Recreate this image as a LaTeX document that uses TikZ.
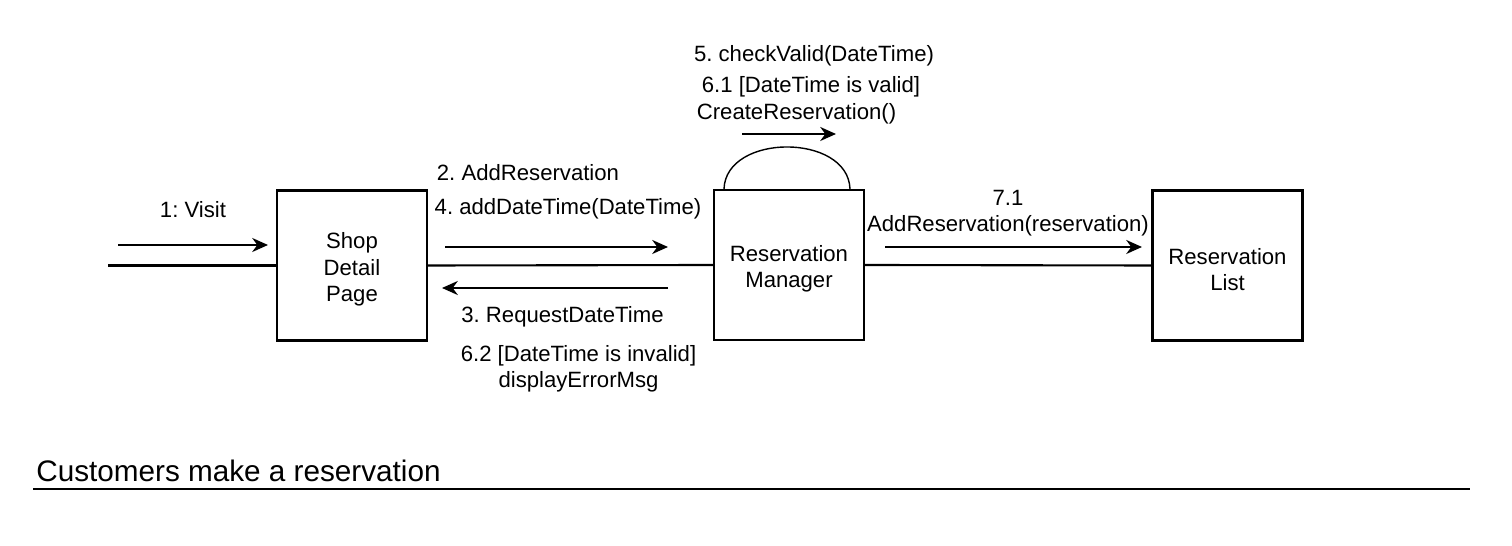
\documentclass[tikz,border=0pt]{standalone}
\usepackage{fontspec}
\setmainfont{Liberation Sans}
\usepackage{tikz}
\usetikzlibrary{arrows.meta,positioning,calc}
\newcommand{\boxstrut}{\rule{0pt}{13.8pt}}

\begin{document}
\frenchspacing
\begin{tikzpicture}[
  x=0.02cm, y=-0.02cm,
  obj/.style={draw, line width=1.2pt, minimum width=3cm, minimum height=3cm, inner sep=0pt, align=center, font=\fontsize{12.6}{15}\selectfont},
  link/.style={line width=1.2pt},
  msg/.style={line width=1.2pt, -{Stealth[length=9pt, width=8pt]}},
  lbl/.style={anchor=base, align=center, inner sep=0pt, font=\fontsize{12.6}{15}\selectfont}
]
\useasboundingbox (0,0) rectangle (1512,546);
% objects
\node[obj] (shop) at (352,265.5) {\boxstrut Shop\\Detail\\Page};
\node[obj] (mgr)  at (789,265)   {\boxstrut Reservation\\Manager};
\node[obj] (list) at (1227.5,265.5) {\boxstrut Reservation\\List};
\coordinate (actor) at (108,265.5);

% links
\draw[link] (actor) -- (shop.west);
\draw[link] (shop.east) -- (mgr.west);
\draw[link] (mgr.east) -- (list.west);
\draw[line width=0.8pt] ($(mgr.north)+(-65,0)$) .. controls ($(mgr.north)+(-63,-56)$) and ($(mgr.north)+(59,-56)$) .. ($(mgr.north)+(61,0)$);

% messages
\coordinate (v1) at (118,245);  \coordinate (v2) at (268,245);
\coordinate (a1) at (445,247);  \coordinate (a2) at (668,247);
\coordinate (r1) at (668,288);  \coordinate (r2) at (442,288);
\coordinate (s1) at (742,134);  \coordinate (s2) at (836,134);
\coordinate (l1) at (885,247);  \coordinate (l2) at (1142,247);
\draw[msg] (v1) -- (v2);
\draw[msg] (a1) -- (a2);
\draw[msg] (r1) -- (r2);
\draw[msg] (s1) -- (s2);
\draw[msg] (l1) -- (l2);

% labels
\node[lbl] (visit) at (193,218) {1: Visit};
\node[lbl] (add)   at (528,181) {2. AddReservation};
\node[lbl] (adddt) at (568,215) {4. addDateTime(DateTime)};
\node[lbl] (req)   at (562.5,322.5) {3. RequestDateTime};
\node[lbl] (inv)   at (578.5,388) {6.2 [DateTime is invalid]\\displayErrorMsg};
\node[lbl] (chk)   at (814,62) {5. checkValid(DateTime)};
\node[lbl] (val)   at (811,93) {6.1 [DateTime is valid]};
\node[lbl] (crt)   at (796.5,120) {CreateReservation()};
\node[lbl] (addr)  at (1008,231.5) {7.1\\AddReservation(reservation)};

% title
\node[anchor=base west, inner sep=0pt, font=\fontsize{16.9}{20}\selectfont] (title) at (36,482) {Customers make a reservation};
\coordinate (u1) at (33,489); \coordinate (u2) at (1470,489);
\draw[line width=1.2pt] (u1) -- (u2);
\end{tikzpicture}
\end{document}
